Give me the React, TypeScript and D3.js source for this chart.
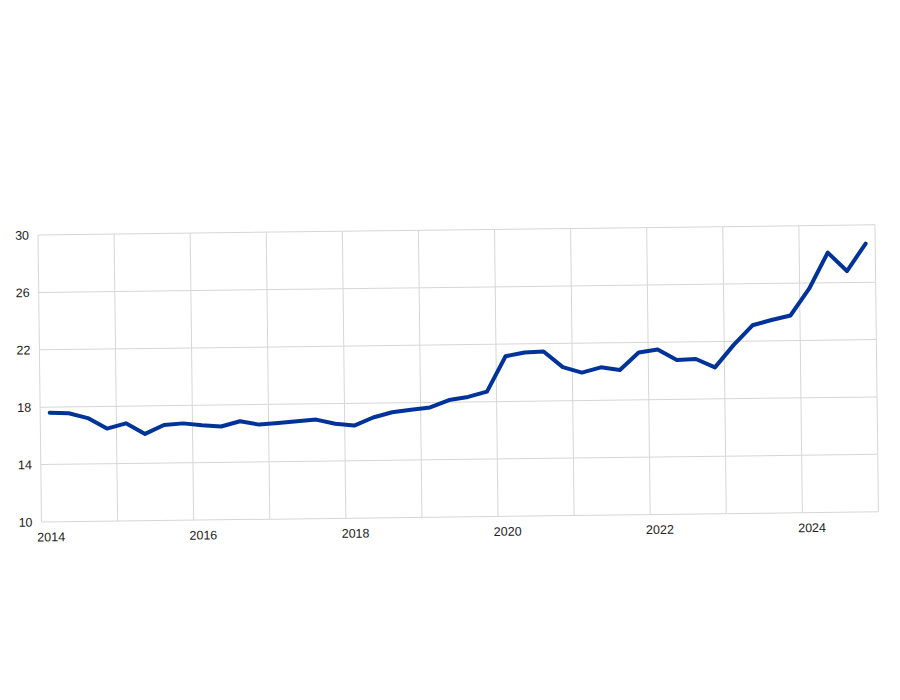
import React from 'react';
import * as d3 from 'd3';

const years = [2014, 2015, 2016, 2017, 2018, 2019, 2020, 2021, 2022, 2023, 2024];
// quarterly values, Q1..Q4 for each year
const values = [
  17.6, 17.55, 17.2, 16.45,
  16.8, 16.05, 16.65, 16.75,
  16.6, 16.5, 16.85, 16.6,
  16.7, 16.8, 16.9, 16.6,
  16.45, 17.0, 17.35, 17.5,
  17.65, 18.15, 18.35, 18.7,
  21.15, 21.4, 21.45, 20.35,
  19.95, 20.3, 20.1, 21.3,
  21.5, 20.75, 20.8, 20.2,
  21.75, 23.1, 23.45, 23.75,
  25.6, 28.1, 26.8, 28.7,
];
const yTicks = [10, 14, 18, 22, 26, 30];
const xLabels = [2014, 2016, 2018, 2020, 2022, 2024];
const gridYears = [2014, 2015, 2016, 2017, 2018, 2019, 2020, 2021, 2022, 2023, 2024, 2025];

const width = 900;
const height = 700;
const plotW = 837;
const plotH = 287;
const origin = { x: 38, y: 235 };
const tilt = -0.7;

const points = values.map((v, i) => ({
  t: years[Math.floor(i / 4)] + ((i % 4) + 0.5) / 4,
  v,
}));

export default function App() {
  const x = d3.scaleLinear().domain([2014, 2025]).range([0, plotW]);
  const y = d3.scaleLinear().domain([10, 30]).range([plotH, 0]);

  const line = d3.line<{ t: number; v: number }>()
    .x(d => x(d.t))
    .y(d => y(d.v));

  const grid = '#d6d6d6';
  const font = '"Liberation Sans", Arial, sans-serif';

  return (
    <svg
      width={width}
      height={height}
      style={{ position: 'absolute', left: 0, top: 0, background: '#fff' }}
    >
      <g transform={`translate(${origin.x},${origin.y}) rotate(${tilt})`}>
        {yTicks.map(t => (
          <line key={'h' + t} x1={0} x2={plotW} y1={y(t)} y2={y(t)} stroke={grid} strokeWidth={1} />
        ))}
        {gridYears.map(yr => (
          <line key={'v' + yr} x1={x(yr)} x2={x(yr)} y1={0} y2={plotH} stroke={grid} strokeWidth={1} />
        ))}
        <path
          d={line(points) || ''}
          fill="none"
          stroke="#003399"
          strokeWidth={4}
          strokeLinejoin="round"
          strokeLinecap="round"
        />
        {yTicks.map(t => (
          <text
            key={'yl' + t}
            x={-9}
            y={y(t)}
            dy="0.36em"
            textAnchor="end"
            fontFamily={font}
            fontSize={12.5}
            fill="#222"
          >
            {t}
          </text>
        ))}
        {xLabels.map(yr => (
          <text
            key={'xl' + yr}
            x={x(yr + 0.125)}
            y={plotH + 19.5}
            textAnchor="middle"
            fontFamily={font}
            fontSize={12.5}
            fill="#222"
          >
            {yr}
          </text>
        ))}
      </g>
    </svg>
  );
}
